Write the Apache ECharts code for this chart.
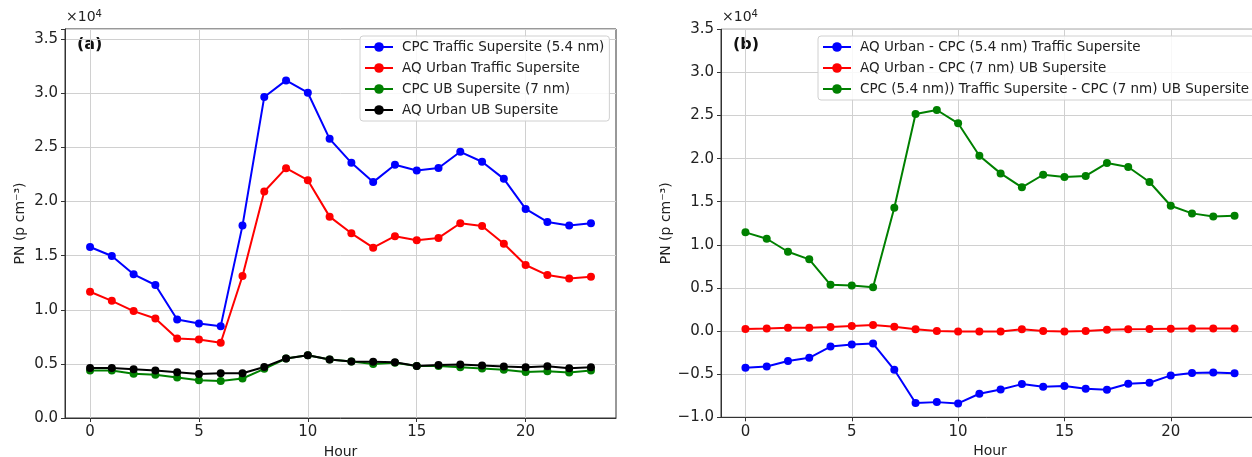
<!DOCTYPE html>
<html>
<head>
<meta charset="utf-8">
<script src="https://cdn.jsdelivr.net/npm/echarts@6/dist/echarts.min.js"></script>
<style>
html,body{margin:0;padding:0;background:#fff;}
#chart{width:1252px;height:457px;}
</style>
</head>
<body>
<div id="chart"></div>
<script>
// ---- Data ----
const hours = [0,1,2,3,4,5,6,7,8,9,10,11,12,13,14,15,16,17,18,19,20,21,22,23];
const xTicks = [0,5,10,15,20];

// Panel (a)
const cpcTraffic   = [15800,14970,13280,12290,9110,8740,8490,17780,29670,31200,30060,25800,23580,21800,23400,22870,23100,24600,23680,22100,19320,18120,17780,18000];
const aqTraffic    = [11670,10830,9880,9200,7350,7260,6950,13120,20930,23090,21980,18610,17070,15740,16800,16420,16640,18000,17750,16110,14140,13210,12900,13060];
const cpcUB        = [4390,4390,4100,4000,3740,3490,3430,3650,4540,5500,5800,5400,5220,5000,5100,4810,4800,4700,4570,4450,4260,4320,4200,4390];
const aqUB         = [4630,4630,4510,4400,4230,4070,4140,4140,4720,5500,5800,5400,5220,5200,5160,4810,4900,4940,4850,4760,4690,4780,4600,4700];

// Panel (b)
const diffTraffic  = [-4260,-4100,-3480,-3100,-1800,-1550,-1450,-4490,-8350,-8240,-8390,-7270,-6770,-6150,-6460,-6380,-6690,-6800,-6110,-6000,-5140,-4870,-4800,-4900];
const diffUB       = [230,300,400,400,460,580,700,500,200,0,-40,-50,-50,200,0,-50,0,150,200,230,270,300,300,300];
const diffCPC      = [11450,10710,9200,8320,5370,5300,5070,14300,25170,25640,24100,20340,18290,16670,18130,17870,18000,19490,19030,17290,14540,13650,13300,13380];

const legendA = ['CPC Traffic Supersite (5.4 nm)','AQ Urban Traffic Supersite','CPC UB Supersite (7 nm)','AQ Urban UB Supersite'];
const legendB = ['AQ Urban - CPC (5.4 nm) Traffic Supersite','AQ Urban - CPC (7 nm) UB Supersite','CPC (5.4 nm)) Traffic Supersite - CPC (7 nm) UB Supersite'];

// ---- Chart ----
const FONT = 'DejaVu Sans';
const TXT = '#222';
const GRIDC = '#d0d0d0';

function pair(xs, ys){ return xs.map((x,i)=>[x, ys[i]]); }
function fmtY(v){
  if (Math.abs(v % 5000) > 1e-6) return '';
  const s = (v/10000).toFixed(1);
  return v < 0 ? '\u2212' + s.slice(1) : s;
}
function xAxisDef(gi){
  return {
    type:'value', gridIndex:gi, min:-1.15, max:24.15,
    name:'Hour', nameLocation:'middle', nameGap:27,
    nameTextStyle:{fontFamily:FONT, fontSize:14, color:TXT},
    axisLine:{show:true, onZero:false, lineStyle:{color:'#333', width:1}},
    axisTick:{show:true, length:4, lineStyle:{color:'#333'}, customValues:xTicks},
    axisLabel:{fontFamily:FONT, fontSize:15, color:TXT, margin:7, customValues:xTicks},
    splitLine:{show:true, lineStyle:{color:GRIDC, width:1}, customValues:xTicks}
  };
}
function yAxisDef(gi, min, max){
  return {
    type:'value', gridIndex:gi, min:min, max:max, interval:5000,
    name:'PN (p cm\u207B\u00B3)', nameLocation:'middle', nameGap:38,
    nameTextStyle:{fontFamily:FONT, fontSize:14, color:TXT},
    axisLine:{show:true, onZero:false, lineStyle:{color:'#333', width:1}},
    axisTick:{show:true, length:4, lineStyle:{color:'#333'}},
    axisLabel:{fontFamily:FONT, fontSize:15, color:TXT, margin:7, formatter:fmtY},
    splitLine:{show:true, lineStyle:{color:GRIDC, width:1}}
  };
}
function line(name, data, color, gi){
  return {
    type:'line', name:name, xAxisIndex:gi, yAxisIndex:gi,
    data: pair(hours, data),
    symbol:'circle', symbolSize:8, showSymbol:true,
    lineStyle:{color:color, width:2},
    itemStyle:{color:color},
    emphasis:{disabled:true},
    animation:false
  };
}
function legendDef(names, left){
  return {
    data:names, orient:'vertical', left:left, top:36,
    itemWidth:28, itemHeight:12, itemGap:7,
    padding:[4,5,4,4],
    backgroundColor:'rgba(255,255,255,0.85)', borderColor:'#d0d0d0', borderWidth:1, borderRadius:3,
    textStyle:{fontFamily:FONT, fontSize:13.5, color:TXT, padding:[0,0,0,4]},
    selectedMode:false
  };
}

const chart = echarts.init(document.getElementById('chart'), null, {renderer:'canvas'});
chart.setOption({
  backgroundColor:'#fff',
  animation:false,
  grid:[
    {left:65, top:29, width:551, height:389, show:true, borderColor:'#333', borderWidth:1, containLabel:false, outerBoundsMode:'none'},
    {left:721, top:29.3, width:538, height:388, show:true, borderColor:'#333', borderWidth:1, containLabel:false, outerBoundsMode:'none'}
  ],
  xAxis:[xAxisDef(0), xAxisDef(1)],
  yAxis:[yAxisDef(0, 0, 35950), yAxisDef(1, -10000, 35000)],
  legend:[legendDef(legendA, 360), legendDef(legendB, 818)],
  series:[
    line(legendA[0], cpcTraffic, '#0000ff', 0),
    line(legendA[1], aqTraffic, '#ff0000', 0),
    line(legendA[2], cpcUB, '#008000', 0),
    line(legendA[3], aqUB, '#000000', 0),
    line(legendB[0], diffTraffic, '#0000ff', 1),
    line(legendB[1], diffUB, '#ff0000', 1),
    line(legendB[2], diffCPC, '#008000', 1)
  ],
  graphic:[
    {type:'text', left:77, top:37, style:{text:'(a)', font:'bold 16px "DejaVu Sans"', fill:'#111'}},
    {type:'text', left:733, top:37, style:{text:'(b)', font:'bold 16px "DejaVu Sans"', fill:'#111'}},
    {type:'text', left:66, top:9, style:{text:'\u00D710{s|4}', fontFamily:FONT, fontSize:14, fill:TXT,
      rich:{s:{fontFamily:FONT, fontSize:10, fill:TXT, verticalAlign:'top', padding:[0,0,6,0]}}}},
    {type:'text', left:722, top:9, style:{text:'\u00D710{s|4}', fontFamily:FONT, fontSize:14, fill:TXT,
      rich:{s:{fontFamily:FONT, fontSize:10, fill:TXT, verticalAlign:'top', padding:[0,0,6,0]}}}}
  ]
});
</script>
</body>
</html>
